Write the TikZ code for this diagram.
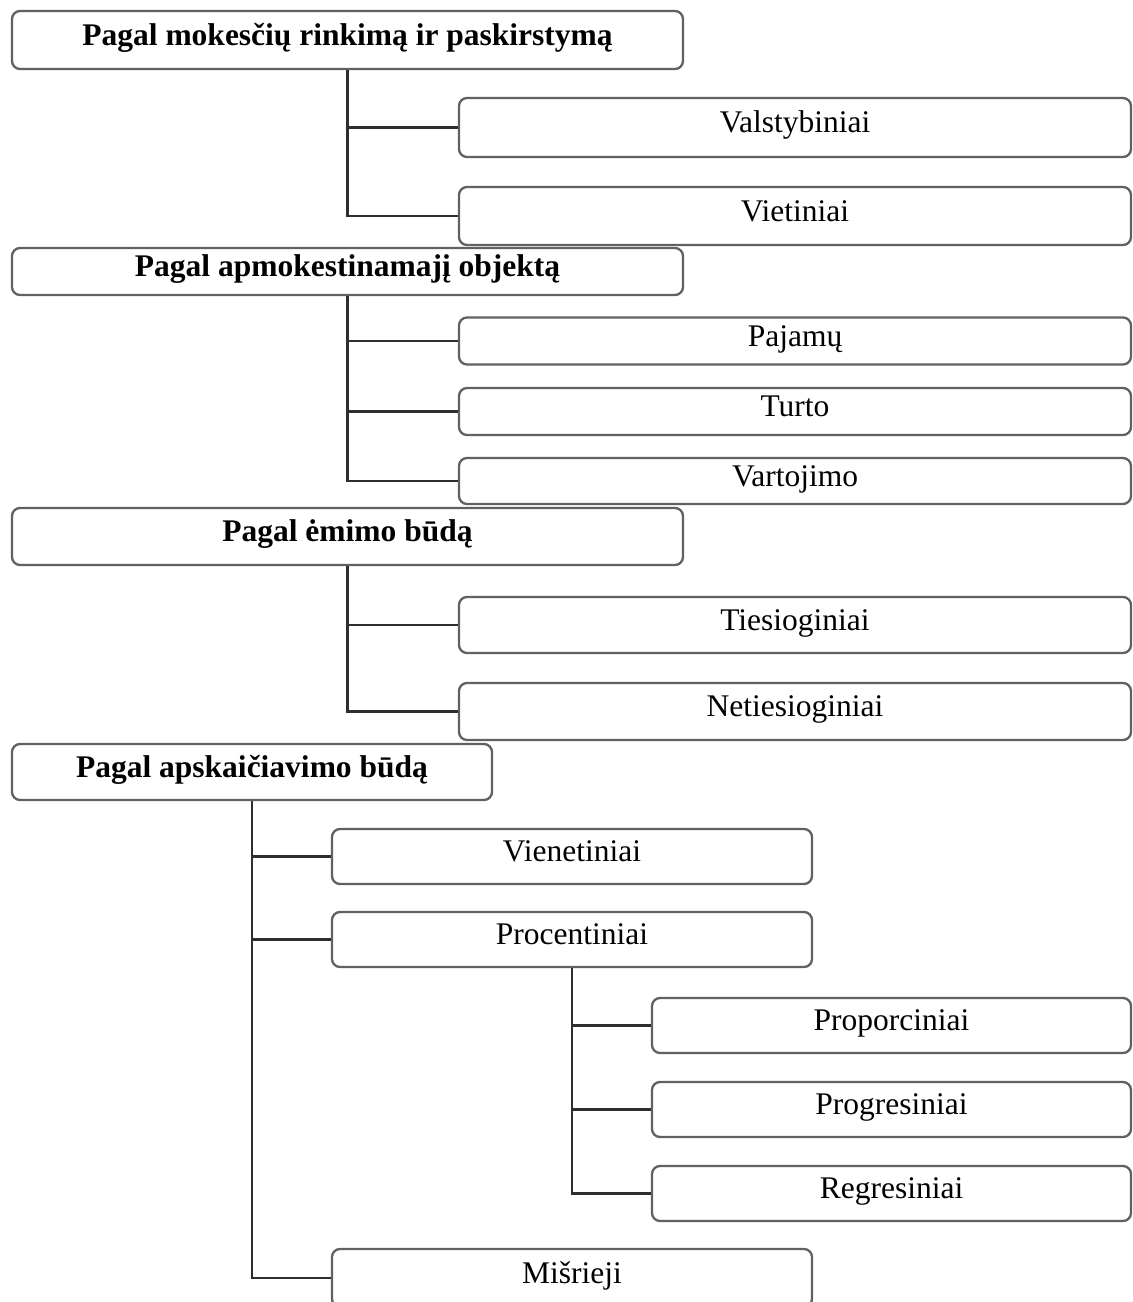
\documentclass[tikz,border=0pt]{standalone}
\usepackage{fontspec}
\setmainfont{Liberation Serif}
\begin{document}
\begin{tikzpicture}[x=1pt,y=-1pt,
  box/.style={draw=black!62, line width=2.3pt, rounded corners=8pt, fill=white,
    inner sep=0pt, text height=20pt, text depth=10pt,
    font=\fontsize{31.5}{36}\selectfont},
  head/.style={box, font=\fontsize{31.5}{36}\selectfont\bfseries},
  wide/.style={minimum width=671pt},
  sub/.style={minimum width=480pt},
  conn/.style={draw=black!82, line width=2.3pt}]
\fill[white] (0,0) rectangle (1133,1302);
\useasboundingbox (0,0) rectangle (1133,1302);

% group 1
\node[head, wide, minimum height=58pt] (t1) at (347.5,40) {Pagal mokesčių rinkimą ir paskirstymą};
\node[box, minimum width=672pt, minimum height=59pt] (valst) at (795,127.5) {Valstybiniai};
\node[box, minimum width=672pt, minimum height=58pt] (viet) at (795,216) {Vietiniai};

% group 2
\node[head, wide, minimum height=47pt] (t2) at (347.5,271.5) {Pagal apmokestinamajį objektą};
\node[box, minimum width=672pt, minimum height=47pt] (paj) at (795,341) {Pajamų};
\node[box, minimum width=672pt, minimum height=47pt] (turto) at (795,411.5) {Turto};
\node[box, minimum width=672pt, minimum height=46pt] (vart) at (795,481) {Vartojimo};

% group 3
\node[head, wide, minimum height=57pt] (t3) at (347.5,536.5) {Pagal ėmimo būdą};
\node[box, minimum width=672pt, minimum height=56pt] (ties) at (795,625) {Tiesioginiai};
\node[box, minimum width=672pt, minimum height=57pt] (neties) at (795,711.5) {Netiesioginiai};

% group 4
\node[head, minimum width=480pt, minimum height=56pt] (t4) at (252,772) {Pagal apskaičiavimo būdą};
\node[box, sub, minimum height=55pt] (vien) at (572,856.5) {Vienetiniai};
\node[box, sub, minimum height=55pt] (proc) at (572,939.5) {Procentiniai};
\node[box, minimum width=479pt, minimum height=55pt] (prop) at (891.5,1025.5) {Proporciniai};
\node[box, minimum width=479pt, minimum height=55pt] (prog) at (891.5,1109.5) {Progresiniai};
\node[box, minimum width=479pt, minimum height=55pt] (regr) at (891.5,1193.5) {Regresiniai};
\node[box, sub, minimum height=58pt] (misr) at (572,1278) {Mišrieji};

% connectors
\draw[conn] (t1.south) |- (valst.west);
\draw[conn] (t1.south) |- (viet.west);
\draw[conn] (t2.south) |- (paj.west);
\draw[conn] (t2.south) |- (turto.west);
\draw[conn] (t2.south) |- (vart.west);
\draw[conn] (t3.south) |- (ties.west);
\draw[conn] (t3.south) |- (neties.west);
\draw[conn] (t4.south) |- (vien.west);
\draw[conn] (t4.south) |- (proc.west);
\draw[conn] (t4.south) |- (misr.west);
\draw[conn] (proc.south) |- (prop.west);
\draw[conn] (proc.south) |- (prog.west);
\draw[conn] (proc.south) |- (regr.west);
\end{tikzpicture}
\end{document}
